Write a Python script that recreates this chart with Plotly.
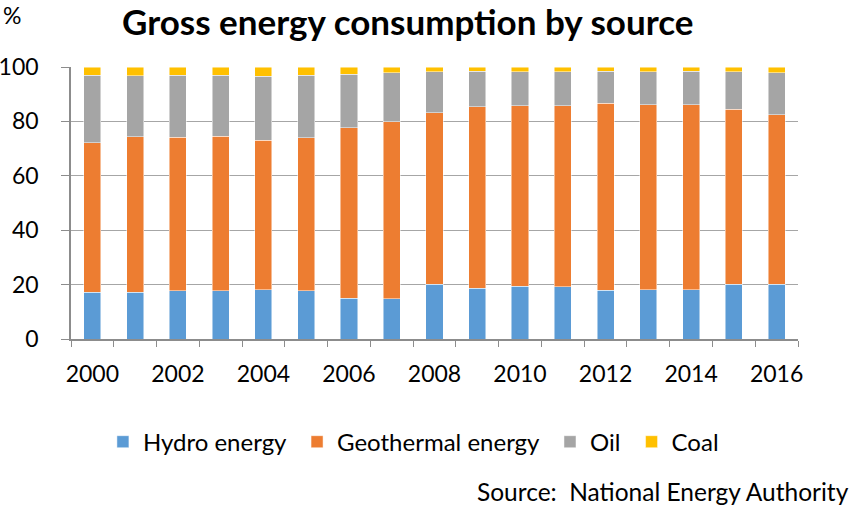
import plotly.graph_objects as go

years = list(range(2000, 2017))
hydro = [17.1, 17.2, 17.7, 17.8, 18.2, 17.7, 15.0, 14.8, 20.2, 18.7, 19.4, 19.2, 18.0, 18.2, 18.2, 20.2, 20.2]
geothermal = [55.0, 57.1, 56.4, 56.7, 54.8, 56.3, 62.6, 65.0, 62.9, 66.6, 66.3, 66.5, 68.6, 68.0, 68.0, 64.2, 62.3]
oil = [24.9, 22.4, 22.9, 22.5, 23.6, 23.0, 19.8, 18.0, 15.1, 13.2, 12.5, 12.5, 11.8, 12.0, 12.3, 13.8, 15.3]
coal = [3.0, 3.3, 3.0, 3.0, 3.4, 3.0, 2.6, 2.2, 1.8, 1.5, 1.8, 1.8, 1.6, 1.8, 1.5, 1.8, 2.2]

series = [
    ("Hydro energy", hydro, "#5B9BD5"),
    ("Geothermal energy", geothermal, "#ED7D31"),
    ("Oil", oil, "#A5A5A5"),
    ("Coal", coal, "#FFC000"),
]

FONT = "Lato"
TXT = 23
PAD = "\u00a0"  # a little extra room between legend entries

fig = go.Figure()
for i, (name, vals, color) in enumerate(series):
    fig.add_trace(go.Bar(
        x=years, y=vals,
        name=name + (PAD if i < len(series) - 1 else ""),
        marker=dict(color=color, line=dict(color="rgba(255,255,255,0.6)", width=0.8)),
    ))

fig.update_layout(
    barmode="stack",
    bargap=0.6,
    width=853, height=508,
    margin=dict(l=71, r=55, t=67, b=169, autoexpand=False),
    paper_bgcolor="white",
    plot_bgcolor="white",
    font=dict(family=FONT, size=TXT, color="#000"),
    title=dict(
        text="<b>Gross energy consumption by source</b>",
        x=0.478, xanchor="center", y=0.955, yanchor="middle",
        font=dict(family=FONT, size=35, color="#000"),
    ),
    legend=dict(
        orientation="h", x=0.471, xanchor="center", y=-0.379, yanchor="middle",
        font=dict(family=FONT, size=24, color="#000"),
        itemwidth=30, traceorder="normal",
    ),
    xaxis=dict(
        range=[1999.5, 2016.5],
        tickvals=years[::2],
        ticktext=[str(y) for y in years[::2]],
        ticks="",
        ticklabelstandoff=14,
        automargin=False,
        showgrid=False,
        showline=True, linecolor="#8c8c8c", linewidth=1.5,
        minor=dict(tickvals=[y - 0.5 for y in years] + [2016.5],
                   ticks="outside", ticklen=6, tickcolor="#8c8c8c", showgrid=False),
        tickfont=dict(size=TXT),
    ),
    yaxis=dict(
        range=[0, 100], dtick=20,
        showgrid=True, gridcolor="#a6a6a6", gridwidth=1.2,
        showline=True, linecolor="#8c8c8c", linewidth=1.5,
        ticks="outside", ticklen=8, tickcolor="#8c8c8c",
        ticklabelstandoff=18,
        automargin=False,
        zeroline=False,
        tickfont=dict(size=TXT),
    ),
    annotations=[
        dict(text="%", xref="paper", yref="paper", x=-0.081, y=1.19,
             xanchor="center", yanchor="middle", showarrow=False,
             font=dict(family=FONT, size=TXT, color="#000")),
        dict(text="Source:  National Energy Authority", xref="paper", yref="paper",
             x=1.073, y=-0.56, xanchor="right", yanchor="middle", showarrow=False,
             font=dict(family=FONT, size=24.5, color="#000")),
    ],
)

fig.write_html("out.html")
